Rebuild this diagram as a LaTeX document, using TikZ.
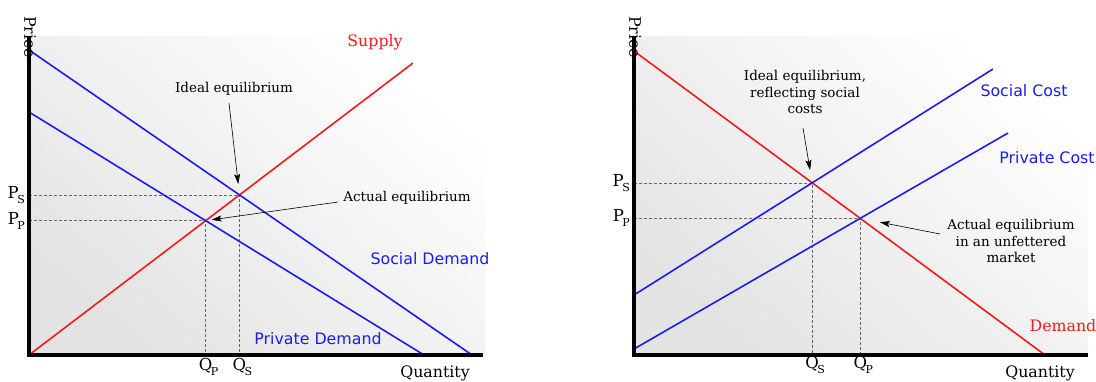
\documentclass[tikz,border=0pt]{standalone}
\usepackage{fontspec}
\setmainfont{DejaVu Serif}
\newfontfamily\curvefont{DejaVu Sans}
\usetikzlibrary{arrows.meta}
\definecolor{curvered}{RGB}{240,28,28}
\definecolor{curveblue}{RGB}{28,28,240}
% price/quantity mark with a lowered subscript
\newcommand{\eqlab}[2]{#1\kern-1.5pt\raisebox{-5pt}{\fontsize{11}{11}\selectfont #2}}

\begin{document}
\begin{tikzpicture}[x=1pt, y=1pt, every node/.style={font=\fontsize{13.5}{16.5}\selectfont, align=center, inner sep=1pt},
  panel/.style={shading=axis, top color=white, bottom color=black!11, shading angle=-40},
  curve/.style={line width=1.6pt},
  axis/.style={line width=4pt, line join=miter},
  guide/.style={densely dashed, black!60, line width=0.6pt},
  note/.style={-{Stealth[length=10pt, width=6pt, inset=2pt]}, line width=0.6pt},
  tick/.style={font=\fontsize{16.5}{18}\selectfont},
  axlab/.style={font=\fontsize{15.8}{18}\selectfont},
  sans/.style={font=\curvefont\fontsize{15.8}{18}\selectfont}]
\useasboundingbox (0,0) rectangle (1096,381);

% left: demand shifted by a positive externality
\shade[panel] (29,26) rectangle (485,344);
\coordinate (o1) at (29,26);
\coordinate (s1) at (413,318);
\coordinate (sd0) at (29,331); \coordinate (sd1) at (472,26);
\coordinate (pd0) at (29,269); \coordinate (pd1) at (424,26);
\coordinate (es1) at (intersection of o1--s1 and sd0--sd1);
\coordinate (ep1) at (intersection of o1--s1 and pd0--pd1);
\draw[guide] (o1 |- es1) -- (es1) -- (es1 |- o1);
\draw[guide] (o1 |- ep1) -- (ep1) -- (ep1 |- o1);
\draw[curve, curvered] (o1) -- (s1);
\draw[curve, curveblue] (sd0) -- (sd1);
\draw[curve, curveblue] (pd0) -- (pd1);
\draw[axis] (29,344) -- (o1) -- (483,26);
\node[axlab, rotate=-90] (price1) at (30,344) {Price};
\node[axlab] (qty1) at (435,8) {Quantity};
\node[tick, left=3pt] (ps1) at (o1 |- es1) {\eqlab{P}{S}};
\node[tick, left=3pt] (pp1) at (o1 |- ep1) {\eqlab{P}{P}};
\node[tick, below=2pt, xshift=3pt] (qp1) at (ep1 |- o1) {\eqlab{Q}{P}};
\node[tick, below=2pt, xshift=3pt] (qs1) at (es1 |- o1) {\eqlab{Q}{S}};
\node[axlab, text=curvered] (supply) at (375,339) {Supply};
\node[sans, text=curveblue] (socdem) at (430,122) {Social Demand};
\node[sans, text=curveblue] (privdem) at (318,42) {Private Demand};
\node (ideal1) at (234,292) {Ideal equilibrium};
\node (actual1) at (407,183) {Actual equilibrium};
\coordinate (t1) at (229,278);
\coordinate (t2) at (338,179);
\draw[note, shorten >=11pt] (t1) -- (es1);
\draw[note, shorten >=6pt] (t2) -- (ep1);

% right: supply shifted by a negative externality
\shade[panel] (634,26) rectangle (1088,344);
\coordinate (o2) at (634,26);
\coordinate (d0) at (634,330); \coordinate (d1) at (1045,26);
\coordinate (sc0) at (634,86); \coordinate (sc1) at (993,312);
\coordinate (pc0) at (634,32); \coordinate (pc1) at (1008,248);
\coordinate (es2) at (intersection of d0--d1 and sc0--sc1);
\coordinate (ep2) at (intersection of d0--d1 and pc0--pc1);
\draw[guide] (o2 |- es2) -- (es2) -- (es2 |- o2);
\draw[guide] (o2 |- ep2) -- (ep2) -- (ep2 |- o2);
\draw[curve, curvered] (d0) -- (d1);
\draw[curve, curveblue] (sc0) -- (sc1);
\draw[curve, curveblue] (pc0) -- (pc1);
\draw[axis] (634,344) -- (o2) -- (1088,26);
\node[axlab, rotate=-90] (price2) at (635,344) {Price};
\node[axlab] (qty2) at (1040,8) {Quantity};
\node[tick, left=3pt] (ps2) at (o2 |- es2) {\eqlab{P}{S}};
\node[tick, left=3pt] (pp2) at (o2 |- ep2) {\eqlab{P}{P}};
\node[tick, below=0pt, xshift=3pt] (qs2) at (es2 |- o2) {\eqlab{Q}{S}};
\node[tick, below=0pt, xshift=3pt] (qp2) at (ep2 |- o2) {\eqlab{Q}{P}};
\node[axlab, text=curvered] (demand) at (1063,55) {Demand};
\node[sans, text=curveblue] (soccost) at (1024,290) {Social Cost};
\node[sans, text=curveblue] (privcost) at (1047,223) {Private Cost};
\node (ideal2) at (805,289) {Ideal equilibrium,\\reflecting social\\costs};
\node (actual2) at (1011,140) {Actual equilibrium\\in an unfettered\\market};
\coordinate (t3) at (803,253);
\coordinate (t4) at (940,147);
\draw[note, shorten >=13pt] (t3) -- (es2);
\draw[note, shorten >=20pt] (t4) -- (ep2);
\end{tikzpicture}
\end{document}
